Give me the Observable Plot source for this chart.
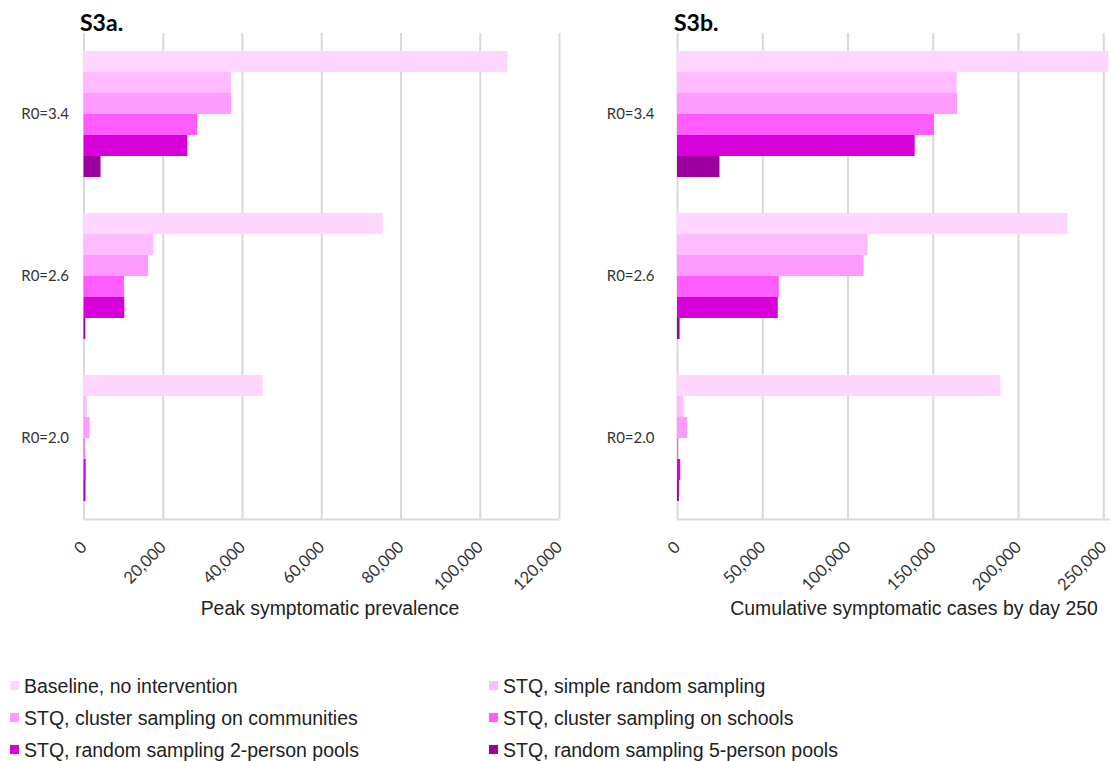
<!DOCTYPE html>
<html>
<head>
<meta charset="utf-8">
<script src="https://cdn.jsdelivr.net/npm/d3@7"></script>
<script src="https://cdn.jsdelivr.net/npm/@observablehq/plot@0.6"></script>
<style>
  html, body { margin: 0; padding: 0; background: #fff; }
  #wrap { position: relative; width: 1110px; height: 761px; overflow: hidden; background: #fff; }
  .abs { position: absolute; white-space: nowrap; }
  .title { font-family: Lato, sans-serif; font-weight: bold; font-size: 23px; color: #000; line-height: normal; }
  .axt { font-family: "Liberation Sans", Arial, sans-serif; font-size: 19.4px; color: #222; line-height: normal; }
  .leg { font-family: "Liberation Sans", Arial, sans-serif; font-size: 19.5px; color: #222; line-height: normal; }
  .sw { position: absolute; width: 9px; height: 9px; }
  svg { overflow: visible; }
</style>
</head>
<body>
<div id="wrap"></div>
<script>
// ---- data ----
const groups = ["R0=3.4", "R0=2.6", "R0=2.0"];
const series = [
  "Baseline, no intervention",
  "STQ, simple random sampling",
  "STQ, cluster sampling on communities",
  "STQ, cluster sampling on schools",
  "STQ, random sampling 2-person pools",
  "STQ, random sampling 5-person pools"
];
const colors = ["#FFD6FF", "#FFBBFF", "#FF9BFF", "#FF5CFF", "#D800DA", "#9E009E"];

// S3a: Peak symptomatic prevalence
const peak_R34 = [107000, 37200, 37300, 28700, 26200, 4300];
const peak_R26 = [75500, 17600, 16300, 10200, 10300, 450];
const peak_R20 = [45200, 800, 1500, 300, 550, 500];

// S3b: Cumulative symptomatic cases by day 250
const cum_R34 = [252900, 164000, 164300, 150700, 139400, 24900];
const cum_R26 = [229000, 111800, 109400, 59700, 59100, 1500];
const cum_R20 = [189800, 3800, 6000, 700, 1900, 1100];

const ticksA = [0, 20000, 40000, 60000, 80000, 100000, 120000];
const ticksB = [0, 50000, 100000, 150000, 200000, 250000];

function rows(lists) {
  const out = [];
  lists.forEach((vals, gi) => vals.forEach((v, si) => out.push({group: groups[gi], series: series[si], value: v})));
  return out;
}
const dataA = rows([peak_R34, peak_R26, peak_R20]);
const dataB = rows([cum_R34, cum_R26, cum_R20]);

const H = 630, MT = 33, MB = 111;

function grid(ticks, xMax, width, marginLeft, marginRight) {
  return Plot.plot({
    width, height: H, marginLeft, marginRight, marginTop: MT, marginBottom: MB,
    style: {background: "transparent"},
    x: {domain: [0, xMax], axis: null},
    y: {domain: [0, 1], axis: null},
    marks: [
      Plot.ruleX(ticks, {x: d => d, stroke: "#d9d9d9", strokeWidth: 2}),
      Plot.ruleY([0], {stroke: "#d9d9d9", strokeWidth: 2})
    ]
  });
}

function panel(data, ticks, xMax, width, marginLeft, marginRight, fyPad) {
  return Plot.plot({
    width, height: H,
    marginLeft, marginRight, marginTop: MT, marginBottom: MB,
    style: {fontFamily: "Lato, sans-serif", fontSize: "15px", color: "#333", background: "transparent"},
    x: {domain: [0, xMax], ticks, tickFormat: d3.format(","), tickRotate: -45, tickSize: 0, tickPadding: 43, label: null},
    y: {domain: series, axis: null, padding: 0},
    fy: {domain: groups, paddingInner: 36 / 162, paddingOuter: 18 / 162, tickSize: 0, tickPadding: fyPad, label: null},
    color: {domain: series, range: colors},
    marks: [
      Plot.barX(data, {x: "value", y: "series", fy: "group", fill: "series", inset: 0})
    ]
  });
}

const wrap = document.getElementById("wrap");
function place(el, left) {
  el.style.position = "absolute"; el.style.left = left + "px"; el.style.top = "0px";
  el.style.overflow = "visible";
  wrap.appendChild(el);
}

const xMaxB = 250000 * 433 / 426.3;
place(grid(ticksA, 120000, 560, 83.5, 1), 0);
place(panel(dataA, ticksA, 120000, 560, 83.5, 1, 15), 0);
place(grid(ticksB, xMaxB, 510, 77, 0), 600);
place(panel(dataB, ticksB, xMaxB, 510, 77, 0, 23), 600);
// larger x tick labels
wrap.querySelectorAll("g[aria-label='x-axis tick label']").forEach(g => g.setAttribute("font-size", "16.5"));

function addText(cls, text, left, top, extra) {
  const d = document.createElement("div");
  d.className = "abs " + cls;
  d.textContent = text;
  d.style.left = left + "px";
  d.style.top = top + "px";
  if (extra) Object.assign(d.style, extra);
  wrap.appendChild(d);
  return d;
}
addText("title", "S3a.", 80, 8);
addText("title", "S3b.", 674, 8);
addText("axt", "Peak symptomatic prevalence", 330, 597, {transform: "translateX(-50%)"});
addText("axt", "Cumulative symptomatic cases by day 250", 914, 597, {transform: "translateX(-50%)"});

// legend
series.forEach((s, i) => {
  const col = i % 2, row = Math.floor(i / 2);
  const sx = col === 0 ? 10 : 489;
  const tx = col === 0 ? 24 : 503;
  const base = 692 + row * 32;
  const sw = document.createElement("div");
  sw.className = "sw";
  sw.style.left = sx + "px";
  sw.style.top = (base - 11) + "px";
  sw.style.background = colors[i];
  wrap.appendChild(sw);
  addText("leg", s, tx, base - 17.5);
});
</script>
</body>
</html>
